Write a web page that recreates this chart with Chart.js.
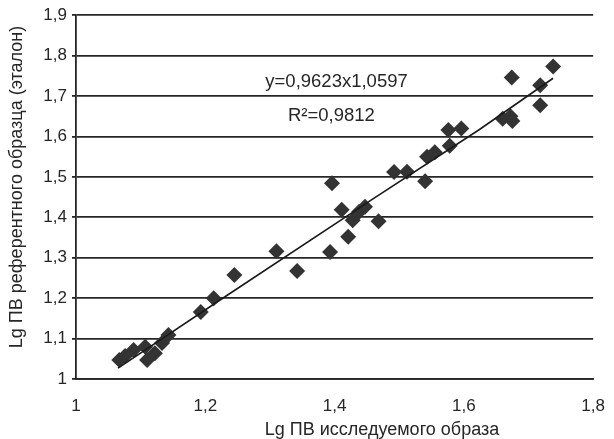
<!DOCTYPE html>
<html>
<head>
<meta charset="utf-8">
<script src="https://cdn.jsdelivr.net/npm/chart.js@4"></script>
<style>
  html, body { margin: 0; padding: 0; background: #fff; }
  #wrap { width: 614px; height: 439px; }
</style>
</head>
<body>
<div id="wrap"><canvas id="chart" width="614" height="439"></canvas></div>
<script>
// Lg ПВ: исследуемый образец (x) vs референтный образец (y)
const xVals = [1.067, 1.076, 1.089, 1.107, 1.110, 1.122, 1.133, 1.143, 1.193, 1.213,
               1.245, 1.310, 1.342, 1.393, 1.396, 1.411, 1.421, 1.428, 1.438, 1.447,
               1.468, 1.492, 1.512, 1.540, 1.543, 1.555, 1.578, 1.576, 1.596, 1.660,
               1.672, 1.675, 1.674, 1.718, 1.718, 1.738];
const yVals = [1.047, 1.057, 1.072, 1.080, 1.047, 1.064, 1.089, 1.109, 1.166, 1.200,
               1.257, 1.316, 1.267, 1.314, 1.484, 1.419, 1.352, 1.393, 1.414, 1.426,
               1.390, 1.512, 1.513, 1.489, 1.550, 1.561, 1.577, 1.616, 1.620, 1.644,
               1.650, 1.638, 1.746, 1.727, 1.677, 1.773];

// trend line
const trendX = [1.065, 1.231, 1.457, 1.623, 1.738];
const trendY = [1.027, 1.204, 1.443, 1.616, 1.744];

const yTicks = [1, 1.1, 1.2, 1.3, 1.4, 1.5, 1.6, 1.7, 1.8, 1.9];
const xTicks = [1, 1.2, 1.4, 1.6, 1.8];

const xTitle = 'Lg ПВ исследуемого образа';
const yTitle = 'Lg ПВ референтного образца (эталон)';
const eqText = 'y=0,9623x1,0597';
const r2Text = 'R²=0,9812';

const ink = '#262626';
const font = 'Liberation Sans, Arial, sans-serif';

function comma(v) {
    const r = Math.round(v * 10) / 10;
    return String(r).replace('.', ',');
}

const points = xVals.map((x, i) => ({ x: x, y: yVals[i] }));
const trend = trendX.map((x, i) => ({ x: x, y: trendY[i] }));

const textPlugin = {
    id: 'texts',
    afterDraw(chart) {
        const ctx = chart.ctx;
        const xs = chart.scales.x, ys = chart.scales.y;
        ctx.save();
        ctx.fillStyle = ink;
        ctx.textAlign = 'center';
        ctx.textBaseline = 'middle';
        ctx.font = '18.5px ' + font;
        ctx.fillText(eqText, xs.getPixelForValue(1.403), ys.getPixelForValue(1.734));
        ctx.fillText(r2Text, xs.getPixelForValue(1.395), ys.getPixelForValue(1.650));
        ctx.font = '18px ' + font;
        ctx.fillText(xTitle, 382, 430);
        ctx.translate(17, 187);
        ctx.rotate(-Math.PI / 2);
        ctx.fillText(yTitle, 0, 0);
        ctx.restore();
    }
};

new Chart(document.getElementById('chart'), {
    type: 'scatter',
    data: {
        datasets: [
            {
                type: 'line',
                data: trend,
                borderColor: '#1a1a1a',
                borderWidth: 1.6,
                pointRadius: 0,
                fill: false,
                tension: 0
            },
            {
                data: points,
                pointStyle: 'rectRot',
                pointRadius: 8,
                pointHoverRadius: 8,
                backgroundColor: '#333',
                borderColor: '#333',
                borderWidth: 0
            }
        ]
    },
    options: {
        responsive: false,
        animation: false,
        events: [],
        layout: { padding: { left: 0, right: 6, top: 15, bottom: 0 } },
        plugins: { legend: { display: false }, tooltip: { enabled: false } },
        scales: {
            x: {
                type: 'linear',
                min: 1, max: 1.8,
                afterBuildTicks: s => { s.ticks = xTicks.map(v => ({ value: v })); },
                afterFit: s => { s.height = 60; },
                grid: { display: false },
                border: { display: true, color: ink, width: 1.8 },
                ticks: {
                    color: ink, padding: 9,
                    font: { family: font, size: 17 },
                    callback: v => comma(v)
                }
            },
            y: {
                type: 'linear',
                min: 1, max: 1.9,
                afterBuildTicks: s => { s.ticks = yTicks.map(v => ({ value: v })); },
                afterFit: s => { s.width = 76; },
                grid: { color: ink, lineWidth: 1.8, tickLength: 4 },
                border: { display: true, color: ink, width: 1.8 },
                ticks: {
                    color: ink, padding: 5,
                    font: { family: font, size: 17 },
                    callback: v => comma(v)
                }
            }
        }
    },
    plugins: [textPlugin]
});
</script>
</body>
</html>
